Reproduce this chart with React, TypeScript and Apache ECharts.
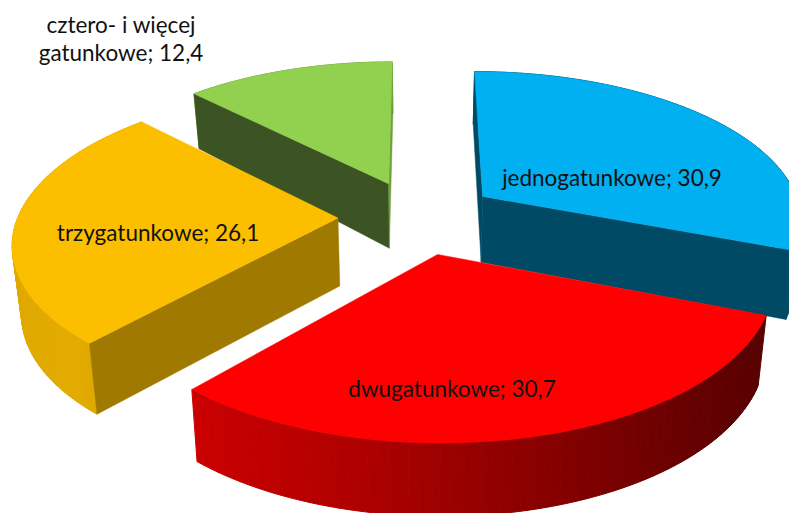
import React, { useEffect, useRef } from "react";
import * as echarts from "echarts";

const categories = ["jednogatunkowe", "dwugatunkowe", "trzygatunkowe", "cztero- i więcej\ngatunkowe"];
const shares = [30.9, 30.7, 26.1, 12.4];

const topColors = ["#00B0F0", "#FF0000", "#FCBF00", "#92D050"];
const sideColors = ["#004A66", "#6B0000", "#A07A00", "#3C5323"];
const farSideColors = ["#004A66", "#6B0000", "#A07A00", "#6F9E3D"];
const wallStops: any[][] = [
  [[0, "#004A66"], [1, "#004A66"]],
  [[0, "#CC0000"], [0.3, "#AE0000"], [0.6, "#8A0000"], [1, "#560000"]],
  [[0, "#DFA800"], [0.5, "#E4AC00"], [1, "#CF9D00"]],
  [[0, "#6F9E3D"], [1, "#6F9E3D"]],
];
const paintOrder = [3, 4, 2, 1];
const labelPositions = [[612, 177], [452, 388], [158, 232], [121, 38]];

const CX = 418;
const CY = 217;
const RX = 320;
const RY = 148.7;
const PERSPECTIVE = 0.1466;
const EXPLODE = 0.25;
const VANISH_X = 418;
const SHRINK = 0.977;

function project(x: number, y: number): number[] {
  const s = 1 / (1 + PERSPECTIVE * y);
  return [CX + RX * s * x, CY - RY * s * y, s];
}
function dropToBase(p: number[]): number[] {
  const s = p[2];
  const depth = s < 1 ? 68 - 107 * (1 - s) : 68 + 24 * (s - 1);
  return [VANISH_X + (p[0] - VANISH_X) * SHRINK, p[1] + depth];
}
function cross(a: number[], b: number[], c: number[]) {
  return (b[0] - a[0]) * (c[1] - b[1]) - (b[1] - a[1]) * (c[0] - b[0]);
}
const flat = (p: number[]) => [p[0], p[1]];

function renderSlice(params: any, api: any) {
  const i = params.dataIndex;
  const total = shares.reduce((a, b) => a + b, 0);
  const value = api.value(0);
  const before = shares.slice(0, i).reduce((a, b) => a + b, 0);
  const a0 = (before / total) * Math.PI * 2;
  const a1 = ((before + value) / total) * Math.PI * 2;
  const mid = (a0 + a1) / 2;
  const ox = EXPLODE * Math.sin(mid);
  const oy = EXPLODE * Math.cos(mid);

  const steps = 72;
  const arc: number[][] = [];
  for (let k = 0; k <= steps; k++) {
    const t = a0 + ((a1 - a0) * k) / steps;
    arc.push(project(ox + Math.sin(t), oy + Math.cos(t)));
  }
  const apex = project(ox, oy);
  const base = arc.map(dropToBase);
  const apexBase = dropToBase(apex);
  const first = arc[0];
  const last = arc[arc.length - 1];
  const z = paintOrder[i] * 10;

  const poly = (points: number[][], fill: any, stroke: any, width: number, z2: number) => ({
    type: "polygon",
    shape: { points },
    style: { fill, stroke, lineWidth: width },
    z2,
  });

  const xs = arc.map((p) => p[0]);
  const wallFill = new echarts.graphic.LinearGradient(
    Math.min(...xs), 0, Math.max(...xs), 0,
    wallStops[i].map((s: any) => ({ offset: s[0], color: s[1] })),
    true
  );
  const children: any[] = [];
  for (let k = 0; k < steps; k++) {
    children.push(poly([flat(arc[k]), flat(arc[k + 1]), base[k + 1], base[k]], wallFill, wallFill, 1, z));
  }
  if (cross(apex, first, base[0]) < 0) {
    children.push(poly([flat(apex), flat(first), base[0], apexBase], sideColors[i], sideColors[i], 0.5, z + 1));
  }
  if (cross(apex, last, base[base.length - 1]) > 0) {
    children.push(poly([flat(apex), flat(last), base[base.length - 1], apexBase], farSideColors[i], farSideColors[i], 0.5, z + 1));
  }
  children.push(poly([flat(apex), ...arc.map(flat)], topColors[i], topColors[i], 0.5, z + 2));
  children.push({
    type: "text",
    x: labelPositions[i][0],
    y: labelPositions[i][1],
    style: {
      text: `${categories[i]}; ${String(value).replace(".", ",")}`,
      fontFamily: "Lato",
      fontSize: 22.5,
      lineHeight: 28,
      fill: "#111111",
      align: "center",
      verticalAlign: "middle",
    },
    z2: 100,
  });
  return { type: "group", children };
}

export default function App() {
  const ref = useRef<HTMLDivElement>(null);
  useEffect(() => {
    document.body.style.margin = "0";
    const chart = echarts.init(ref.current!, null, { renderer: "svg" });
    chart.setOption({
      animation: false,
      backgroundColor: "#ffffff",
      series: [
        {
          type: "custom",
          coordinateSystem: "none",
          silent: true,
          clip: false,
          data: shares.map((v) => [v]),
          renderItem: renderSlice,
        },
      ],
    });
    return () => chart.dispose();
  }, []);
  return <div ref={ref} style={{ width: 789, height: 513 }} />;
}
